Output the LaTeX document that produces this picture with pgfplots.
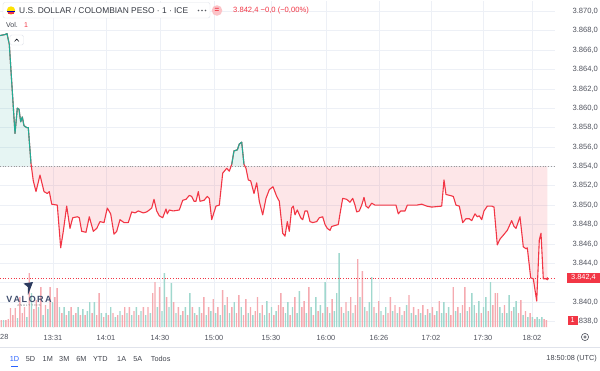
\documentclass[border=0pt]{standalone}
\usepackage{pgfplots}
\pgfplotsset{compat=1.18}
\usepackage{pgfplotstable}
\usepackage{fontspec}
\setmainfont{Liberation Sans}
\definecolor{tvred}{HTML}{F23645}
\definecolor{tvgreen}{HTML}{22AB94}
\definecolor{volred}{HTML}{F5AAB0}
\definecolor{volgreen}{HTML}{A0D8CE}
\definecolor{gridc}{HTML}{EDF0F6}
\definecolor{txt}{HTML}{50535E}
\definecolor{dark}{HTML}{131722}
\definecolor{tvblue}{HTML}{2962FF}
\definecolor{sep}{HTML}{E0E3EB}
\definecolor{navy}{HTML}{2B3A5E}

\pgfplotstableread{
x y
0 3867.5
5 3867.6
7 3867.7
9.3 3866.6
15 3857.4
17.3 3860.0
19 3859.9
20.7 3858.6
22.3 3859.1
24 3858.2
26.7 3858.0
28.3 3858.0
31 3854.3
33.3 3852.5
36 3851.4
40 3853.1
44 3851.4
47.3 3851.2
49.3 3851.4
51.7 3850.1
57.3 3850.0
60.7 3845.6
63.3 3847.3
66.7 3849.9
70 3847.6
72.7 3848.7
77.3 3848.8
79.3 3848.7
81.7 3847.3
86 3847.2
89.3 3848.8
93.3 3847.3
96.7 3847.6
100 3848.3
104 3848.2
107.3 3849.7
110.7 3849.1
114 3847.0
116.7 3847.3
120 3848.5
124 3848.2
128.3 3848.2
131.7 3849.3
135 3849.2
138.3 3849.4
143.3 3849.2
146.7 3849.3
149.3 3849.5
151.7 3849.7
154 3850.6
156.7 3849.4
159.3 3848.9
162.7 3848.7
166 3849.6
167.3 3849.1
169.3 3849.5
173.3 3849.4
179.3 3849.5
182.7 3850.5
186 3850.6
189.3 3851.0
191.7 3850.9
194 3850.4
196 3850.4
198.3 3851.4
200 3850.4
204 3850.5
207.3 3850.9
209.3 3850.7
211.7 3848.5
216 3849.9
219.3 3850.0
222.7 3853.3
226.7 3853.8
229.3 3853.5
231.7 3854.2
234 3855.6
237.3 3855.7
239.3 3856.3
241.7 3856.5
244 3854.2
246 3853.8
248.3 3852.6
250.7 3852.5
254 3851.2
256.7 3852.3
259.3 3850.4
262.7 3849.0
266 3850.7
269.3 3851.6
273 3851.9
276.7 3850.9
279.3 3850.4
282.7 3847.1
285 3846.8
287.3 3848.3
289.3 3847.3
291.7 3849.7
293.3 3849.9
295 3849.0
297.3 3849.5
300.7 3848.7
302.7 3848.5
305 3849.4
307.3 3849.4
310 3848.3
312.7 3848.2
316.7 3848.3
319.3 3848.7
322.7 3848.8
325 3848.0
327.3 3847.6
330 3847.4
331.7 3847.8
335 3847.9
338.3 3848.0
340 3849.1
342.7 3850.7
346.7 3850.6
350 3850.3
352.7 3850.7
355 3850.0
356.7 3849.3
359.3 3849.4
361.7 3850.0
364 3850.8
366 3849.9
368.3 3849.7
371.7 3850.2
375 3850.0
396 3850.0
398.3 3849.1
400.7 3849.4
405 3849.4
407.3 3850.0
416.7 3850.0
421.7 3850.1
426.7 3849.9
431.7 3849.8
441.7 3849.9
444 3852.6
446 3851.1
450 3851.0
453.3 3850.9
456 3850.0
459.3 3849.9
462.7 3848.2
466 3848.6
469.3 3848.6
471.7 3848.4
475 3849.1
477.3 3848.8
479.3 3848.9
481.7 3848.5
484 3849.4
487.3 3849.9
491.7 3849.9
494 3849.8
497.3 3845.9
500 3846.5
503.3 3846.9
507.3 3847.4
511.7 3848.4
514 3847.8
516 3847.6
520 3848.8
523.3 3845.7
526 3845.5
527.3 3845.6
530.7 3842.5
533.3 3842.4
536.7 3840.1
539.3 3846.4
541 3847.1
543.3 3842.4
547.3 3842.4
}\pricedata

\pgfplotstableread{
x v
1.2 7
5.9 7
8.2 8
10.5 19
12.9 12
15.2 19
19.8 30
22.2 14
24.5 20
29.2 54
33.8 18
36.2 27
40.8 40
45.5 22
50.1 40
54.8 30
57.1 39
61.8 14
66.4 12
71.1 20
75.8 14
80.4 12
85.1 12
92.1 14
96.7 12
99.1 34
103.7 10
108.4 12
113.0 14
117.7 12
122.4 12
124.7 20
129.4 20
134.0 16
138.7 12
143.3 20
148.0 20
152.7 34
155.0 45
159.6 40
166.6 30
173.6 25
178.3 20
182.9 16
187.6 12
192.3 20
196.9 12
201.6 14
203.9 30
208.6 20
213.2 28
217.9 20
222.6 37
227.2 30
231.9 20
236.5 14
238.9 32
243.5 12
245.9 28
250.5 20
255.2 16
257.5 30
262.2 22
269.2 14
273.8 12
278.5 22
280.8 34
283.1 20
290.1 12
294.8 30
301.8 20
304.1 26
308.8 40
313.4 12
318.1 16
322.7 14
327.4 20
332.1 28
341.4 20
346.0 25
350.7 30
355.4 22
357.7 68
362.4 56
367.0 16
374.0 20
378.7 26
383.3 12
388.0 14
390.3 30
395.0 22
399.6 20
404.3 16
409.0 32
413.6 20
418.3 18
422.9 22
427.6 18
432.3 20
434.6 12
439.2 26
446.2 14
450.9 12
453.2 40
457.9 20
462.5 22
464.9 40
469.5 20
476.5 14
481.2 14
488.2 16
492.8 22
495.2 34
497.5 34
504.5 22
511.5 16
518.5 14
520.8 27
525.5 16
530.1 14
534.8 8
544.1 8
546.4 7
}\volred

\pgfplotstableread{
x v
3.5 7
17.5 9
26.8 10
31.5 34
38.5 20
43.1 12
47.8 18
52.5 25
59.5 20
64.1 20
68.8 16
73.4 12
78.1 20
82.8 18
87.4 16
89.7 25
94.4 25
101.4 14
106.1 14
110.7 20
115.4 10
120.0 16
127.0 14
131.7 12
136.3 20
141.0 16
145.7 12
150.3 14
157.3 20
162.0 16
164.3 54
169.0 20
171.3 44
176.0 14
180.6 12
185.3 20
189.9 34
194.6 14
199.3 20
206.2 12
210.9 16
215.6 14
220.2 12
224.9 22
229.5 14
234.2 25
241.2 20
248.2 14
252.8 12
259.8 14
264.5 12
266.8 26
271.5 20
276.1 16
285.5 14
287.8 25
292.5 20
297.1 14
299.4 36
306.4 14
311.1 20
315.8 30
320.4 22
325.1 45
329.7 14
334.4 16
336.7 34
339.1 74
343.7 14
348.4 16
353.0 14
360.0 30
364.7 20
369.3 25
371.7 50
376.3 14
381.0 16
385.7 20
392.6 16
397.3 14
402.0 12
406.6 22
411.3 14
415.9 12
420.6 14
425.3 12
429.9 14
436.9 16
441.6 14
443.9 25
448.6 20
455.6 16
460.2 14
467.2 16
471.9 34
474.2 22
478.9 26
483.5 20
485.8 30
490.5 45
499.8 20
502.2 14
506.8 14
509.1 32
513.8 20
516.1 26
523.1 12
527.8 10
532.4 10
537.1 10
539.4 8
541.8 10
}\volgreen

\begin{document}
\begin{tikzpicture}[x=1pt,y=1pt]
\path[use as bounding box, fill=white] (0,0) rectangle (600,370);

% grid + tick labels (y measured from the previous close 3854.0)
\begin{axis}[at={(0,43)}, anchor=south west, width=555pt, height=327pt, scale only axis,
  xmin=0, xmax=555, ymin=-16.71, ymax=17.03,
  axis line style={draw=none}, tick style={draw=none},
  grid=major, major grid style={gridc, line width=0.6pt},
  xtick={53,106,160,214,271,326,379,431,483,532},
  xticklabels={13:31,14:01,14:30,15:00,15:30,16:00,16:26,17:02,17:30,18:02},
  xticklabel style={font=\fontsize{7.4}{9}\selectfont, text=txt, anchor=center, yshift=-10pt},
  ytick={-16,-14,-12,-10,-8,-6,-4,-2,0,2,4,6,8,10,12,14,16},
  yticklabels={{3.838,0},{3.840,0},{},{3.844,0},{3.846,0},{3.848,0},{3.850,0},{3.852,0},{3.854,0},{3.856,0},{3.858,0},{3.860,0},{3.862,0},{3.864,0},{3.866,0},{3.868,0},{3.870,0}},
  yticklabel pos=right,
  yticklabel style={font=\fontsize{7.6}{9}\selectfont, text=txt, anchor=east, xshift=46.5pt},
]
\addplot[draw=none] coordinates {(0,0) (555,0)};
\end{axis}

% volume
\begin{axis}[at={(0,43)}, anchor=south west, width=555pt, height=327pt, scale only axis,
  xmin=0, xmax=555, ymin=0, ymax=327, hide axis, ybar, bar width=1.4pt]
\addplot[fill=volred, draw=none, bar shift=0pt] table[x=x, y=v] {\volred};
\addplot[fill=volgreen, draw=none, bar shift=0pt] table[x=x, y=v] {\volgreen};
\end{axis}

% price (plotted relative to the previous close 3854.0, so the baseline is y=0)
\begin{axis}[at={(0,43)}, anchor=south west, width=555pt, height=327pt, scale only axis,
  xmin=0, xmax=555, ymin=-16.71, ymax=17.03, hide axis]
\addplot[draw=none, fill=tvred, fill opacity=0.12] table[x=x, y expr={min(\thisrow{y}-3854,0)}] {\pricedata} \closedcycle;
\addplot[draw=none, fill=tvgreen, fill opacity=0.11] table[x=x, y expr={max(\thisrow{y}-3854,0)}] {\pricedata} \closedcycle;
\addplot[gray!80, dotted, line width=0.7pt] coordinates {(0,0) (555,0)};
\addplot[tvred, dotted, line width=0.7pt] coordinates {(0,-11.6) (555,-11.6)};
\addplot[tvred, line width=1.1pt, line join=round] table[x=x, y expr={\thisrow{y}-3854}] {\pricedata};
\addplot[tvgreen, line width=1.1pt, line join=round, restrict y to domain=0:20, unbounded coords=jump] table[x=x, y expr={\thisrow{y}-3854}] {\pricedata};
\addplot[only marks, mark=*, mark size=1.3pt, tvred] coordinates {(547.3,-11.6)};
\end{axis}

% right scale labels
\node[fill=tvred, text=white, font=\fontsize{7.4}{9}\selectfont, inner sep=0pt, minimum width=33pt, minimum height=10.5pt] at (583.5,92.2) {3.842,4};
\node[fill=tvred, text=white, font=\fontsize{7.2}{9}\selectfont, inner sep=0pt, minimum width=10pt, minimum height=9pt] at (572.5,49.5) {1};
\draw[txt, line width=0.6pt] (585,33) circle (3.6pt);
\draw[txt, line width=0.6pt] (585,33) circle (1.3pt);
\node[anchor=west, font=\fontsize{7.4}{9}\selectfont, text=txt, inner sep=0pt] at (0,33) {28};

% bottom toolbar
\draw[sep, line width=0.6pt] (0,23) -- (600,23);
\begin{scope}[every node/.style={font=\fontsize{7.3}{9}\selectfont, text=dark!80, inner sep=0pt}]
\node[text=tvblue] at (14.5,11) {1D};
\node at (30.6,11) {5D};
\node at (47.8,11) {1M};
\node at (64.3,11) {3M};
\node at (81.5,11) {6M};
\node at (100.3,11) {YTD};
\node at (121.7,11) {1A};
\node at (137.8,11) {5A};
\node at (160.7,11) {Todos};
\node[anchor=east] at (597,11) {18:50:08 (UTC)};
\end{scope}
\draw[tvblue, line width=1pt] (11,3.5) -- (18,3.5);

% header
\draw[sep, fill=white, rounded corners=2pt] (3,352) rectangle (210,367.5);
\fill[yellow!85!orange] (11,359.5) circle (4.2pt);
\fill[blue!70!black] (7,357.6) rectangle (15,358.8);
\fill[tvred] (7.8,356.2) rectangle (14.2,357.6);
\node[anchor=west, font=\fontsize{8.4}{10}\selectfont, text=dark!85, inner sep=0pt] at (19,359.5) {U.S. DOLLAR / COLOMBIAN PESO · 1 · ICE};
\fill[dark!70] (198.5,359.5) circle (0.8pt) (202,359.5) circle (0.8pt) (205.5,359.5) circle (0.8pt);
\fill[tvred!30] (217,359.5) circle (5.3pt);
\node[text=tvred, font=\fontsize{8}{9}\selectfont\bfseries, inner sep=0pt] at (217,359.7) {=};
\node[anchor=west, font=\fontsize{7.6}{9}\selectfont, text=tvred, inner sep=0pt] at (233,359.5) {3.842,4 −0,0 (−0,00\%)};
\node[anchor=west, font=\fontsize{7}{9}\selectfont, text=dark!80, inner sep=0pt] at (6,345) {Vol.};
\node[anchor=west, font=\fontsize{7}{9}\selectfont, text=tvred, inner sep=0pt] at (24,345) {1};
\draw[sep, fill=white, rounded corners=1.5pt] (10,325) rectangle (23.5,335);
\draw[dark, line width=0.6pt] (14.6,328.6) -- (16.75,330.9) -- (18.9,328.6);

% logo
\fill[navy] (23.5,86.5) -- (33,88) -- (28,75) -- (27.8,83) -- cycle;
\node[font=\fontsize{9}{10}\selectfont\bfseries, text=navy!90, inner sep=0pt] at (29,70.7) {V\,A\,L\,O\,R\,A};
\node[font=\fontsize{3}{4}\selectfont, text=gray, inner sep=0pt] at (29,65) {A N A L Y T I C S};
\end{tikzpicture}
\end{document}
